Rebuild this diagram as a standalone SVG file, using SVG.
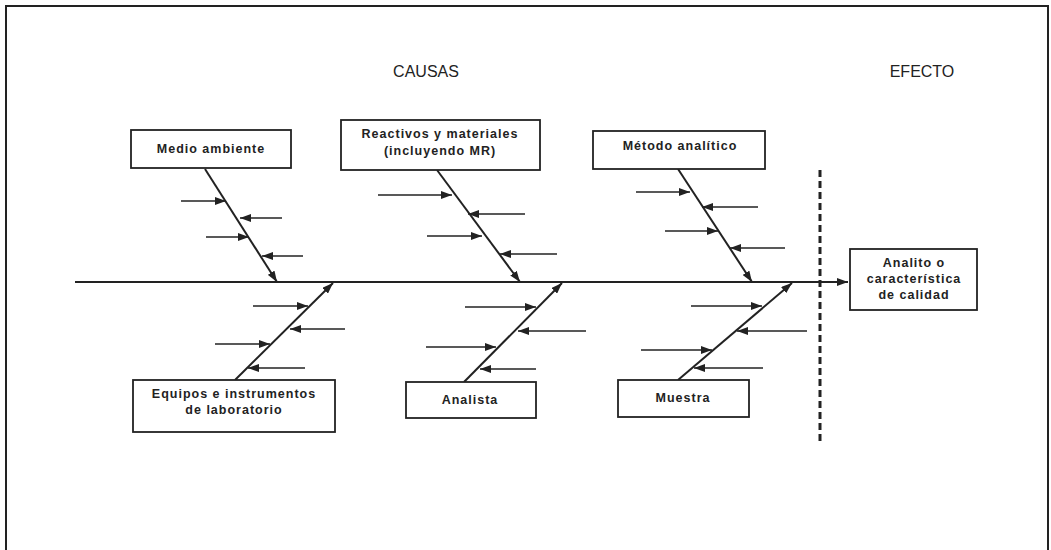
<svg xmlns="http://www.w3.org/2000/svg" width="1051" height="550" viewBox="0 0 1051 550">
<style>
.box{fill:#fff;stroke:#222;stroke-width:1.8}
.lbl{font-family:"Liberation Sans",Arial,sans-serif;font-weight:bold;font-size:12.5px;letter-spacing:1px;fill:#222;text-anchor:middle}
.hdr{font-family:"Liberation Sans",Arial,sans-serif;font-size:16px;fill:#222;text-anchor:middle}
.bone{stroke:#222;stroke-width:2;fill:none;marker-end:url(#ah)}
.sub{stroke:#222;stroke-width:1.6;fill:none;marker-end:url(#ah)}
</style>
<defs>
<marker id="ah" viewBox="0 0 11 8" refX="11" refY="4" markerWidth="11" markerHeight="8" markerUnits="userSpaceOnUse" orient="auto">
<path d="M0,0 L11,4 L0,8 Z" fill="#222"/>
</marker>
</defs>
<rect x="0" y="0" width="1051" height="550" fill="#fff"/>
<rect x="6" y="6" width="1042" height="560" fill="none" stroke="#222" stroke-width="2"/>
<text class="hdr" x="426" y="77">CAUSAS</text>
<text class="hdr" x="922" y="77">EFECTO</text>
<line x1="820" y1="170" x2="820" y2="442" stroke="#222" stroke-width="3" stroke-dasharray="7,4"/>
<g id="connectors">
<line class="bone" x1="75" y1="282" x2="848" y2="282"/>
<line class="bone" x1="205" y1="169" x2="277" y2="282"/>
<line class="sub" x1="181" y1="201" x2="226" y2="201"/>
<line class="sub" x1="282" y1="218" x2="240" y2="218"/>
<line class="sub" x1="206" y1="237" x2="249" y2="237"/>
<line class="sub" x1="303" y1="256" x2="262" y2="256"/>
<line class="bone" x1="437" y1="170" x2="520" y2="282"/>
<line class="sub" x1="378" y1="195" x2="452" y2="195"/>
<line class="sub" x1="525" y1="214" x2="468" y2="214"/>
<line class="sub" x1="427" y1="236" x2="482" y2="236"/>
<line class="sub" x1="557" y1="254" x2="500" y2="254"/>
<line class="bone" x1="678" y1="169" x2="752" y2="282"/>
<line class="sub" x1="636" y1="192" x2="690" y2="192"/>
<line class="sub" x1="758" y1="207" x2="702" y2="207"/>
<line class="sub" x1="665" y1="231" x2="718" y2="231"/>
<line class="sub" x1="785" y1="248" x2="730" y2="248"/>
<line class="bone" x1="235" y1="380" x2="333" y2="283"/>
<line class="sub" x1="253" y1="306" x2="308" y2="306"/>
<line class="sub" x1="345" y1="329" x2="290" y2="329"/>
<line class="sub" x1="215" y1="344" x2="270" y2="344"/>
<line class="sub" x1="305" y1="368" x2="248" y2="368"/>
<line class="bone" x1="464" y1="382" x2="562" y2="283"/>
<line class="sub" x1="465" y1="307" x2="536" y2="307"/>
<line class="sub" x1="586" y1="331" x2="518" y2="331"/>
<line class="sub" x1="426" y1="347" x2="496" y2="347"/>
<line class="sub" x1="536" y1="369" x2="480" y2="369"/>
<line class="bone" x1="678" y1="380" x2="792" y2="283"/>
<line class="sub" x1="691" y1="306" x2="762" y2="306"/>
<line class="sub" x1="807" y1="331" x2="737" y2="331"/>
<line class="sub" x1="641" y1="350" x2="712" y2="350"/>
<line class="sub" x1="763" y1="368" x2="694" y2="368"/>
</g>
<g id="medio">
<rect class="box" x="131" y="130" width="160" height="38"/>
<text class="lbl" x="211" y="153">Medio ambiente</text>
</g>
<g id="reactivos">
<rect class="box" x="341" y="120" width="199" height="50"/>
<text class="lbl" x="440" y="138">Reactivos y materiales</text>
<text class="lbl" x="440" y="155">(incluyendo MR)</text>
</g>
<g id="metodo">
<rect class="box" x="593" y="131" width="172" height="38"/>
<text class="lbl" x="680" y="150">Método analítico</text>
</g>
<g id="equipos">
<rect class="box" x="133" y="380" width="202" height="52"/>
<text class="lbl" x="234" y="398">Equipos e instrumentos</text>
<text class="lbl" x="234" y="414">de laboratorio</text>
</g>
<g id="analista">
<rect class="box" x="406" y="382" width="130" height="36"/>
<text class="lbl" x="470" y="404">Analista</text>
</g>
<g id="muestra">
<rect class="box" x="618" y="380" width="131" height="37"/>
<text class="lbl" x="683" y="402">Muestra</text>
</g>
<g id="analito">
<rect class="box" x="850" y="249" width="127" height="61"/>
<text class="lbl" x="914" y="267">Analito o</text>
<text class="lbl" x="914" y="283">característica</text>
<text class="lbl" x="914" y="299">de calidad</text>
</g>
</svg>
